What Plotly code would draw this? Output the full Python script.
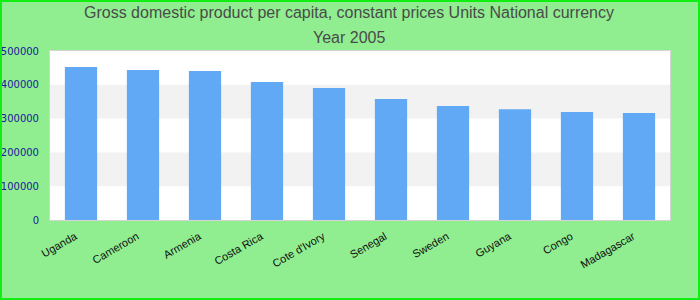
import plotly.graph_objects as go

countries = ["Uganda", "Cameroon", "Armenia", "Costa Rica", "Cote d'Ivory",
             "Senegal", "Sweden", "Guyana", "Congo", "Madagascar"]
values = [453000, 444000, 441000, 408000, 390500, 358000, 337000, 328000, 319500, 316500]
y_ticks = [0, 100000, 200000, 300000, 400000, 500000]
title_lines = ["Gross domestic product per capita, constant prices Units National currency",
               "Year 2005"]

W, H = 700, 300
ML, MR, MT, MB = 50, 30, 51, 80
pw, ph = W - ML - MR, H - MT - MB

fig = go.Figure(go.Bar(x=countries, y=values, marker_color="#62a9f5",
                       marker_line_width=0, hoverinfo="skip"))

shapes = []
for i in range(1, len(y_ticks) - 1, 2):
    shapes.append(dict(type="rect", xref="paper", yref="y", x0=0, x1=1,
                       y0=y_ticks[i], y1=y_ticks[i + 1], fillcolor="#f2f2f2",
                       line_width=0, layer="below"))
# outer border
shapes.append(dict(type="rect", xref="paper", yref="paper",
                   x0=-(ML - 1) / pw, x1=1 + (MR - 1) / pw,
                   y0=-(MB - 1) / ph, y1=1 + (MT - 1) / ph,
                   line=dict(color="#11ee11", width=2), fillcolor="rgba(0,0,0,0)"))

annotations = []
for k, (txt, yc) in enumerate(zip(title_lines, [13, 37])):
    annotations.append(dict(text=txt, xref="paper", yref="paper",
                            x=(349 - ML) / pw, y=1 + (MT - yc) / ph,
                            xanchor="center", yanchor="middle", showarrow=False,
                            font=dict(family="Liberation Sans, Arial", size=16, color="#4a4a4a")))

fig.update_layout(
    width=W, height=H,
    margin=dict(l=ML, r=MR, t=MT, b=MB, pad=0),
    paper_bgcolor="#90ee90", plot_bgcolor="white",
    shapes=shapes, annotations=annotations,
    bargap=0.48,
    showlegend=False,
)
fig.update_xaxes(tickangle=-30, tickfont=dict(family="Liberation Sans, Arial", size=11, color="#111"),
                 ticklabelshift=-6, ticklabelstandoff=5,
                 showline=True, mirror=True, linecolor="#d4d4d4", linewidth=1,
                 showgrid=False, ticks="", fixedrange=True, automargin=False)
fig.update_yaxes(range=[0, 500000], tickvals=y_ticks, tickformat="d",
                 tickfont=dict(family="DejaVu Sans, Verdana", size=10, color="#1a1a9a"),
                 showline=True, mirror=True, linecolor="#d4d4d4", linewidth=1,
                 showgrid=False, zeroline=False, ticks="outside", ticklen=8,
                 tickcolor="rgba(0,0,0,0)", fixedrange=True, automargin=False)

fig.write_html("out.html")
